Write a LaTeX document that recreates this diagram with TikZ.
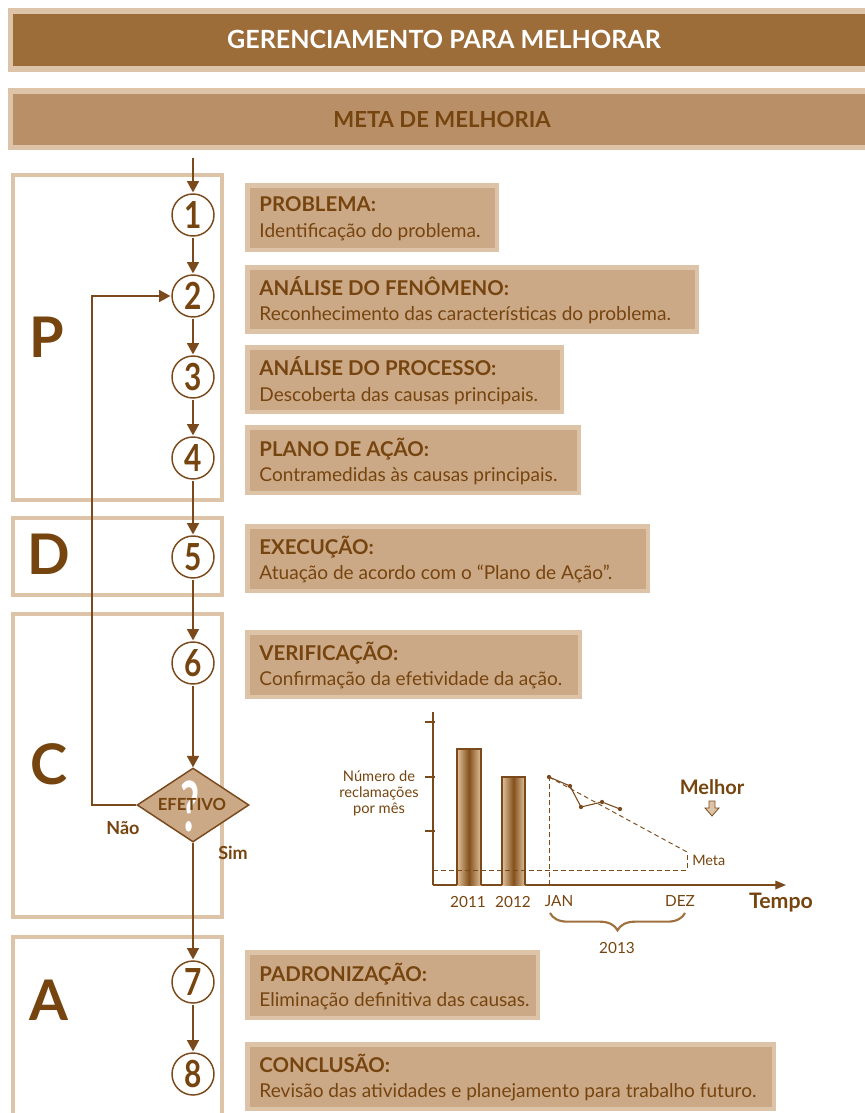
\documentclass[tikz,border=0pt]{standalone}
\usepackage{fontspec}
\setmainfont{Lato}
\usetikzlibrary{shapes.geometric,arrows.meta,decorations.pathreplacing,calc}

\definecolor{ink}{HTML}{76450F}
\definecolor{wire}{HTML}{7A4A1C}
\definecolor{rim}{HTML}{DDC4A9}
\definecolor{tan}{HTML}{CBA886}
\definecolor{headdark}{HTML}{9C6C39}
\definecolor{headmid}{HTML}{B88F67}
\definecolor{barlight}{HTML}{E0C29D}
\definecolor{bardark}{HTML}{84501C}
\definecolor{bracecol}{HTML}{A0703F}

\tikzset{
  stagebox/.style 2 args={draw=rim, line width=3.4pt, fill=tan, inner sep=0pt,
    anchor=north west, minimum width={#1*0.75pt}, minimum height={#2*0.75pt}},
  stagetext/.style={anchor=west, align=left, text=ink, inner sep=0pt,
    font=\fontsize{14.3}{19}\selectfont},
  phase/.style={draw=rim, line width=3.2pt},
  phaseletter/.style={text=ink, font=\fontsize{42}{42}\selectfont\bfseries},
  stepcirc/.style={circle, draw=wire, line width=1.1pt, fill=white, text=ink,
    minimum size=31.5pt, inner sep=0pt, outer sep=1.2pt,
    font=\fontsize{28}{28}\selectfont\bfseries},
  flow/.style={draw=wire, line width=1.2pt, -{Triangle[length=8.5pt,width=9pt]}},
  axisline/.style={draw=wire, line width=0.9pt},
  guide/.style={draw=wire, line width=0.7pt, dash pattern=on 3.5pt off 2.5pt},
  charttext/.style={text=ink, inner sep=0pt, font=\fontsize{11.5}{11.5}\selectfont},
  boldlabel/.style={text=ink, inner sep=0pt, font=\fontsize{12.5}{12.5}\selectfont\bfseries},
}

\newcommand\stepnum[1]{\scalebox{0.8}[1]{#1}}
\newcommand\stagehead[1]{\textbf{\fontsize{15.3}{15.3}\selectfont #1}}

\begin{document}
\begin{tikzpicture}[x=0.75pt, y=-0.75pt]
\useasboundingbox (0,0) rectangle (864,1113);

% title bars
\fill[rim] (8,8) rectangle (870,72);
\fill[headdark] (13,14) rectangle (870,66);
\node (title) [text=white, font=\fontsize{18.8}{18.8}\selectfont\bfseries] at (444,39) {GERENCIAMENTO PARA MELHORAR};
\fill[rim] (8,88) rectangle (870,150);
\fill[headmid] (13,94) rectangle (870,145);
\node (goal) [text=ink, font=\fontsize{16.6}{16.6}\selectfont\bfseries] at (442,119) {META DE MELHORIA};

% PDCA phase frames
\draw[phase] (13,175) rectangle (222,500);
\draw[phase] (13,518) rectangle (222,595);
\draw[phase] (13,614) rectangle (222,917);
\draw[phase] (13,1120) -- (13,937) -- (222,937) -- (222,1120);
\node (lp) [phaseletter] at (47,337) {P};
\node (ld) [phaseletter] at (49,554) {D};
\node (lc) [phaseletter] at (49,764) {C};
\node (la) [phaseletter] at (49,1000) {A};

% stage descriptions
\node (b1) [stagebox={249.5}{64.5}] at (245.2,183.2) {};
\node (t1) [stagetext] at ($(b1.west)+(14,1)$) {\stagehead{PROBLEMA:}\\Identificação do problema.};
\node (b2) [stagebox={449.5}{64}] at (245.2,265.2) {};
\node (t2) [stagetext] at ($(b2.west)+(14,1)$) {\stagehead{ANÁLISE DO FENÔMENO:}\\Reconhecimento das características do problema.};
\node (b3) [stagebox={314.5}{64.5}] at (245.2,345.2) {};
\node (t3) [stagetext] at ($(b3.west)+(14,1)$) {\stagehead{ANÁLISE DO PROCESSO:}\\Descoberta das causas principais.};
\node (b4) [stagebox={331.5}{65.5}] at (245.2,425.2) {};
\node (t4) [stagetext] at ($(b4.west)+(14,1)$) {\stagehead{PLANO DE AÇÃO:}\\Contramedidas às causas principais.};
\node (b5) [stagebox={400.5}{64.5}] at (245.2,524.2) {};
\node (t5) [stagetext] at ($(b5.west)+(14,1)$) {\stagehead{EXECUÇÃO:}\\Atuação de acordo com o “Plano de Ação”.};
\node (b6) [stagebox={332.5}{64.5}] at (245.2,630.2) {};
\node (t6) [stagetext] at ($(b6.west)+(14,1)$) {\stagehead{VERIFICAÇÃO:}\\Confirmação da efetividade da ação.};
\node (b7) [stagebox={290.5}{65.5}] at (245.2,950.2) {};
\node (t7) [stagetext] at ($(b7.west)+(14,1)$) {\stagehead{PADRONIZAÇÃO:}\\Eliminação definitiva das causas.};
\node (b8) [stagebox={526.5}{64.5}] at (245.2,1042.2) {};
\node (t8) [stagetext] at ($(b8.west)+(14,1)$) {\stagehead{CONCLUSÃO:}\\Revisão das atividades e planejamento para trabalho futuro.};

% step circles
\node (c1) [stepcirc] at (193,215) {\stepnum{1}};
\node (c2) [stepcirc] at (193,296) {\stepnum{2}};
\node (c3) [stepcirc] at (193,377) {\stepnum{3}};
\node (c4) [stepcirc] at (193,458) {\stepnum{4}};
\node (c5) [stepcirc] at (193,557) {\stepnum{5}};
\node (c6) [stepcirc] at (193,663) {\stepnum{6}};
\node (c7) [stepcirc] at (193,982) {\stepnum{7}};
\node (c8) [stepcirc] at (193,1074) {\stepnum{8}};

% decision
\node (dec) [diamond, draw=wire, line width=1.1pt, fill=tan, inner sep=0pt,
  minimum width=84pt, minimum height=55.5pt, aspect=1.5] at (193,805) {};
\node (qmark) [text=white, font=\fontsize{52}{52}\selectfont\bfseries] at (190,806) {\scalebox{0.6}[1]{?}};
\node (eff) [text=ink, font=\fontsize{12.5}{12.5}\selectfont\bfseries] at (192,804) {EFETIVO};
\node (no) [boldlabel, font=\fontsize{13.5}{13.5}\selectfont\bfseries] at (123,828) {Não};
\node (yes) [boldlabel, font=\fontsize{13.5}{13.5}\selectfont\bfseries] at (233,853) {Sim};

% flow
\coordinate (start) at (193,158);
\coordinate (loopb) at (92,805);
\coordinate (loopt) at (92,296);
\draw[flow] (start) -- (c1);
\draw[flow] (c1) -- (c2);
\draw[flow] (c2) -- (c3);
\draw[flow] (c3) -- (c4);
\draw[flow] (c4) -- (c5);
\draw[flow] (c5) -- (c6);
\draw[flow] (c6) -- (dec.north);
\draw[flow] (dec.south) -- (c7);
\draw[flow] (c7) -- (c8);
\draw[flow] (dec.west) -- (loopb) -- (loopt) -- (c2.west);

% chart: axes
\coordinate (ytop) at (433,712);
\coordinate (orig) at (433,885);
\coordinate (xend) at (786,885);
\draw[axisline] (ytop) -- (orig);
\draw[axisline, -{Triangle[length=8pt,width=6.5pt]}] (orig) -- (xend);
\foreach \ty in {722,777,831} \draw[axisline] (425,\ty) -- (435,\ty);

% chart: yearly bars
\shade[left color=barlight, right color=barlight, middle color=bardark] (457,749) rectangle (481,885);
\draw[wire, line width=0.8pt] (457,885) -- (457,749) -- (481,749) -- (481,885);
\shade[left color=barlight, right color=barlight, middle color=bardark] (502,777) rectangle (525,885);
\draw[wire, line width=0.8pt] (502,885) -- (502,777) -- (525,777) -- (525,885);

% chart: target guides
\coordinate (p1) at (549,777);
\coordinate (p2) at (570,786);
\coordinate (p3) at (581,807);
\coordinate (p4) at (602,802);
\coordinate (p5) at (620,809);
\coordinate (goalpt) at (687,852);
\draw[guide] (433,870) -- (687,870) -- (goalpt);
\draw[guide] (549,885) -- (p1);
\draw[guide] (p1) -- (goalpt);
\draw[wire, line width=0.8pt] (p1) -- (p2) -- (p3) -- (p4) -- (p5);
\foreach \p in {p1,p2,p3,p4,p5} \fill[wire] (\p) circle (1.6pt);

% chart: labels
\node (ylab) [charttext, align=center, font=\fontsize{11}{12}\selectfont] at (379,793) {Número de\\reclamações\\por mês};
\node (y11) [charttext] at (468,902) {2011};
\node (y12) [charttext] at (513,902) {2012};
\node (jan) [charttext] at (559,901) {JAN};
\node (dez) [charttext] at (680,901) {DEZ};
\node (tempo) [boldlabel, font=\fontsize{16}{16}\selectfont\bfseries] at (781,903) {Tempo};
\node (meta) [charttext, anchor=west, font=\fontsize{10.8}{10.8}\selectfont] at (692,860) {Meta};
\node (better) [boldlabel, font=\fontsize{15}{15}\selectfont\bfseries] at (712,787) {Melhor};
\draw[wire, line width=0.6pt, fill=rim] (709,801) -- (715,801) -- (715,808) -- (719,808) -- (712,816) -- (705,808) -- (709,808) -- cycle;
\coordinate (br1) at (550,913);
\coordinate (br2) at (685,913);
\draw[bracecol, line width=1.6pt, decorate, decoration={brace, mirror, amplitude=13pt}] (br1) -- (br2);
\node (yr) [charttext] at (617,948) {2013};
\end{tikzpicture}
\end{document}
